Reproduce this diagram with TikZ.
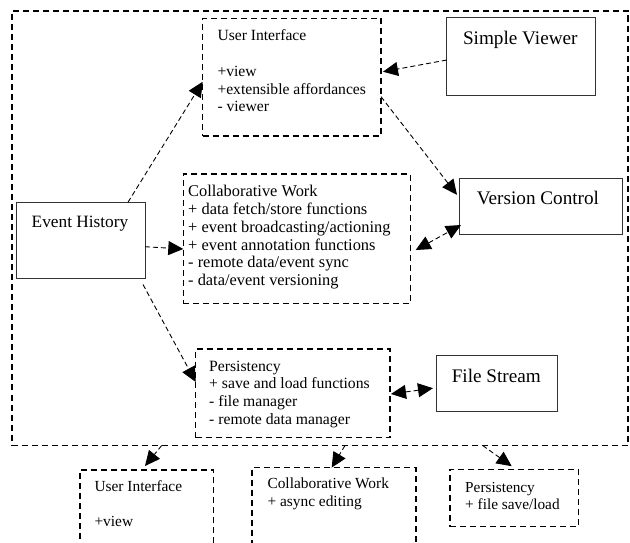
\documentclass[tikz,border=0pt]{standalone}
\usepackage{fontspec}
\setmainfont{Liberation Serif}
\usetikzlibrary{arrows.meta,calc}
\newcommand\boxlines[1]{\begin{tabular}[t]{@{}l@{}}#1\end{tabular}}
\begin{document}
\begin{tikzpicture}[x=1pt,y=-1pt,
  dbox/.style={draw, line width=1.3pt, dash pattern=on 6pt off 4pt, inner sep=0pt, outer sep=0pt, anchor=north west},
  sbox/.style={draw=black!80, line width=0.9pt, inner sep=0pt, outer sep=0pt, anchor=north west},
  smalltxt/.style={inner sep=0pt, anchor=base west},
  bigtxt/.style={font=\fontsize{19.2}{22}\selectfont, inner sep=0pt, anchor=base},
  conn/.style={line width=0.9pt, dash pattern=on 5pt off 3pt, -{Triangle[length=15pt,width=14pt]}},
  biconn/.style={line width=0.9pt, dash pattern=on 5pt off 3pt, {Triangle[length=15pt,width=14pt]}-{Triangle[length=15pt,width=14pt]}}
]
\useasboundingbox (0,0) rectangle (630,543);
\clip (0,0) rectangle (630,543);

% boxes
\node[dbox, minimum width=616pt, minimum height=434.5pt] (outer) at (12,11) {};
\node[dbox, minimum width=178.3pt, minimum height=117.7pt] (ui) at (202.7,18.3) {};
\node[sbox, minimum width=148.3pt, minimum height=78.4pt] (sv) at (446.7,17.3) {};
\node[sbox, minimum width=163.7pt, minimum height=56pt] (vc) at (459,178) {};
\node[sbox, minimum width=129pt, minimum height=76.2pt] (eh) at (16,202.3) {};
\node[dbox, minimum width=227.4pt, minimum height=129.3pt] (cw) at (183.3,174) {};
\node[dbox, minimum width=194.3pt, minimum height=88.7pt] (ps) at (195.7,349) {};
\node[sbox, minimum width=121.7pt, minimum height=56pt] (fs) at (436,355.7) {};
\node[dbox, minimum width=133.3pt, minimum height=100pt] (bui) at (80,470) {};
\node[dbox, minimum width=164pt, minimum height=100pt] (bcw) at (252,467.6) {};
\node[dbox, minimum width=128.3pt, minimum height=57.5pt] (bps) at (450,469.2) {};

% texts
\node[smalltxt, font=\fontsize{15.6}{17.8}\selectfont] (uit) at (217.3,40.7)
  {\boxlines{User Interface\\ \\ +view\\ +extensible affordances\\ - viewer}};
\node[bigtxt] (svt) at (520.3,44.3) {Simple Viewer};
\node[bigtxt] (vct) at (538,204.3) {Version Control};
\node[bigtxt, font=\fontsize{17.3}{20}\selectfont] (eht) at (80,227.3) {Event History};
\node[bigtxt] (fst) at (496.3,382.3) {File Stream};
\node[smalltxt, font=\fontsize{16.4}{17.8}\selectfont] (cwt) at (188,196.7)
  {\boxlines{Collaborative Work\\ + data fetch/store functions\\ + event broadcasting/actioning\\ + event annotation functions\\ - remote data/event sync\\ - data/event versioning}};
\node[smalltxt, font=\fontsize{15.7}{17.7}\selectfont] (pst) at (209,371)
  {\boxlines{Persistency\\ + save and load functions\\ - file manager\\ - remote data manager}};
\node[smalltxt, font=\fontsize{15.4}{17.6}\selectfont] (buit) at (94.3,491.7)
  {\boxlines{User Interface\\ \\ +view}};
\node[smalltxt, font=\fontsize{15.4}{18.2}\selectfont] (bcwt) at (267.3,488.3)
  {\boxlines{Collaborative Work\\ + async editing}};
\node[smalltxt, font=\fontsize{15.3}{16.7}\selectfont] (bpst) at (465,492.3)
  {\boxlines{Persistency\\ + file save/load}};

% connectors
\draw[conn] ($(eh.north west)!0.868!(eh.north east)$) -- ($(ui.north west)!0.539!(ui.south west)$);
\draw[conn] ($(eh.north east)!0.583!(eh.south east)$) -- ($(cw.north west)!0.58!(cw.south west)$);
\draw[conn] ($(eh.south east)+(-2,6)$) -- ($(ps.north west)!0.372!(ps.south west)$);
\draw[conn] ($(sv.north west)!0.545!(sv.south west)$) -- ($(ui.north east)!0.454!(ui.south east)+(2,0)$);
\draw[conn] ($(ui.north east)!0.666!(ui.south east)$) -- ($(vc.north west)!0.30!(vc.south west)+(-2,0)$);
\draw[biconn] ($(cw.north east)!0.588!(cw.south east)+(5,0)$) -- ($(vc.north west)!0.84!(vc.south west)+(2,0)$);
\draw[biconn] ($(ps.north east)!0.507!(ps.south east)+(1,0)$) -- ($(fs.north west)!0.58!(fs.south west)+(-3,0)$);
\draw[conn] ($(outer.south west)!0.243!(outer.south east)$) -- ($(bui.north west)!0.4876!(bui.north east)+(0,-4)$);
\draw[conn] ($(outer.south west)!0.5406!(outer.south east)$) -- ($(bcw.north west)!0.486!(bcw.north east)$);
\draw[conn] ($(outer.south west)!0.764!(outer.south east)$) -- ($(bps.north west)!0.481!(bps.north east)+(0,-3)$);
\end{tikzpicture}
\end{document}
